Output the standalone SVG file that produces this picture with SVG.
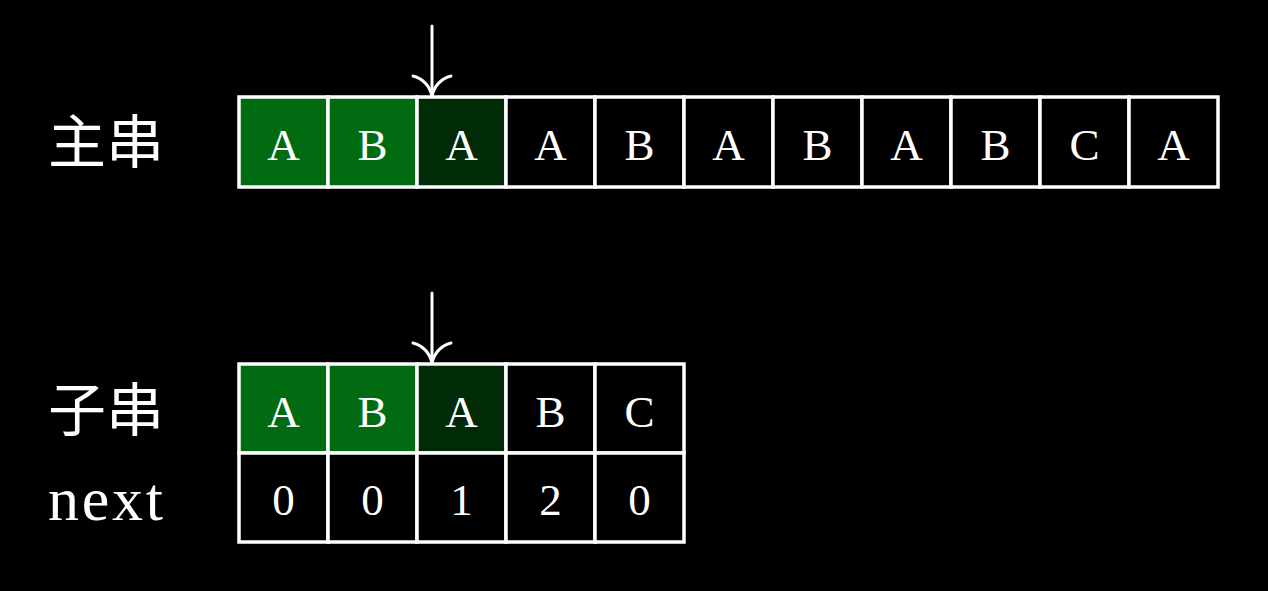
<svg xmlns="http://www.w3.org/2000/svg" width="1268" height="591" viewBox="0 0 1268 591">
  <style>
    .cell { fill: #000; stroke: #fff; stroke-width: 3.5; }
    .hit { fill: #006b10; }
    .cur { fill: #012a06; }
    .ch { fill: #fff; font-family: "Liberation Serif", "DejaVu Serif", serif; font-size: 45px; text-anchor: middle; }
    .lbl { fill: #fff; font-family: "Noto Sans CJK SC", "Noto Sans", sans-serif; font-size: 58px; }
    .lat { fill: #fff; font-family: "Liberation Serif", serif; font-size: 62px; }
    .ptr { fill: none; stroke: #fff; stroke-width: 3; stroke-linecap: round; }
  </style>
  <defs>
    <!-- curved open arrowhead; marker x-axis follows the line direction -->
    <marker id="head" markerUnits="userSpaceOnUse" markerWidth="28" markerHeight="44" refX="24" refY="22" orient="auto" viewBox="0 0 28 44">
      <path d="M4 3 Q8 18 24 22 Q8 26 4 41" fill="none" stroke="#fff" stroke-width="3" stroke-linecap="round"/>
    </marker>
  </defs>
  <rect width="1268" height="591" fill="#000"/>

  <g id="label-main"><text class="lbl" x="48" y="163">主串</text></g>
  <g id="label-sub"><text class="lbl" x="48" y="431">子串</text></g>
  <g id="label-next"><text class="lat" x="48" y="520" textLength="115">next</text></g>

  <!-- main string -->
  <g id="main-0"><rect class="cell hit" x="239" y="97" width="89" height="90"/><text class="ch" x="283.5" y="160">A</text></g>
  <g id="main-1"><rect class="cell hit" x="328" y="97" width="89" height="90"/><text class="ch" x="372.5" y="160">B</text></g>
  <g id="main-2"><rect class="cell cur" x="417" y="97" width="89" height="90"/><text class="ch" x="461.5" y="160">A</text></g>
  <g id="main-3"><rect class="cell" x="506" y="97" width="89" height="90"/><text class="ch" x="550.5" y="160">A</text></g>
  <g id="main-4"><rect class="cell" x="595" y="97" width="89" height="90"/><text class="ch" x="639.5" y="160">B</text></g>
  <g id="main-5"><rect class="cell" x="684" y="97" width="89" height="90"/><text class="ch" x="728.5" y="160">A</text></g>
  <g id="main-6"><rect class="cell" x="773" y="97" width="89" height="90"/><text class="ch" x="817.5" y="160">B</text></g>
  <g id="main-7"><rect class="cell" x="862" y="97" width="89" height="90"/><text class="ch" x="906.5" y="160">A</text></g>
  <g id="main-8"><rect class="cell" x="951" y="97" width="89" height="90"/><text class="ch" x="995.5" y="160">B</text></g>
  <g id="main-9"><rect class="cell" x="1040" y="97" width="89" height="90"/><text class="ch" x="1084.5" y="160">C</text></g>
  <g id="main-10"><rect class="cell" x="1129" y="97" width="89" height="90"/><text class="ch" x="1173.5" y="160">A</text></g>

  <!-- pattern -->
  <g id="sub-0"><rect class="cell hit" x="239" y="364" width="89" height="89"/><text class="ch" x="283.5" y="427">A</text></g>
  <g id="sub-1"><rect class="cell hit" x="328" y="364" width="89" height="89"/><text class="ch" x="372.5" y="427">B</text></g>
  <g id="sub-2"><rect class="cell cur" x="417" y="364" width="89" height="89"/><text class="ch" x="461.5" y="427">A</text></g>
  <g id="sub-3"><rect class="cell" x="506" y="364" width="89" height="89"/><text class="ch" x="550.5" y="427">B</text></g>
  <g id="sub-4"><rect class="cell" x="595" y="364" width="89" height="89"/><text class="ch" x="639.5" y="427">C</text></g>

  <!-- next array -->
  <g id="next-0"><rect class="cell" x="239" y="453" width="89" height="89"/><text class="ch" x="283.5" y="515">0</text></g>
  <g id="next-1"><rect class="cell" x="328" y="453" width="89" height="89"/><text class="ch" x="372.5" y="515">0</text></g>
  <g id="next-2"><rect class="cell" x="417" y="453" width="89" height="89"/><text class="ch" x="461.5" y="515">1</text></g>
  <g id="next-3"><rect class="cell" x="506" y="453" width="89" height="89"/><text class="ch" x="550.5" y="515">2</text></g>
  <g id="next-4"><rect class="cell" x="595" y="453" width="89" height="89"/><text class="ch" x="639.5" y="515">0</text></g>

  <!-- pointers -->
  <g id="connectors">
    <line class="ptr" x1="432" y1="26" x2="432" y2="96" marker-end="url(#head)"/>
    <line class="ptr" x1="432" y1="293" x2="432" y2="363" marker-end="url(#head)"/>
  </g>
</svg>
